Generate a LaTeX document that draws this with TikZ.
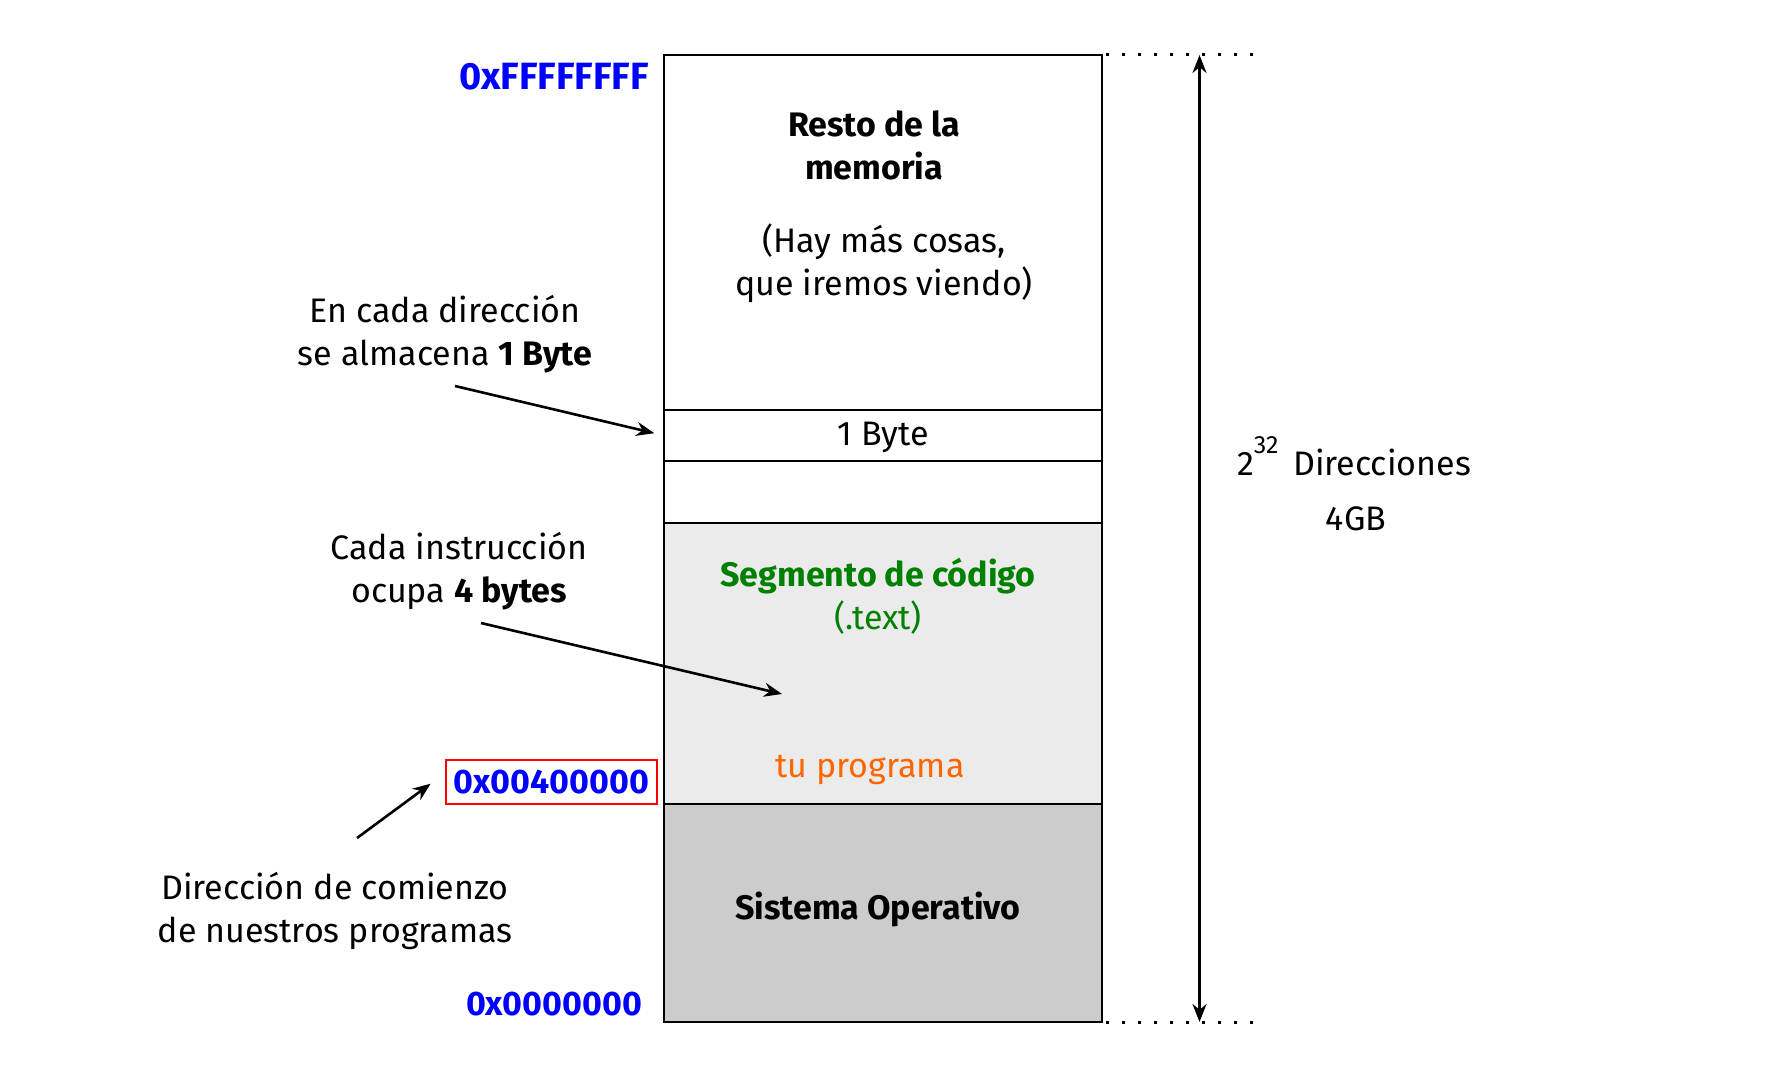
\documentclass[tikz,border=0pt]{standalone}
\usepackage{fontspec}
\setmainfont{Fira Sans}
\usetikzlibrary{positioning,arrows.meta}
\definecolor{addrblue}{RGB}{0,0,255}
\definecolor{codegreen}{RGB}{0,128,0}
\definecolor{progorange}{RGB}{255,102,0}
\definecolor{codegray}{RGB}{235,235,235}
\definecolor{sogray}{RGB}{204,204,204}
\newcommand\memfont{\fontsize{17}{21.5}\selectfont}
\tikzset{
  memrow/.style={draw,line width=1pt,minimum width=219pt,inner sep=0pt,outer sep=0pt},
  txt/.style={font=\memfont,align=center,inner sep=0pt},
  addr/.style={font=\memfont\bfseries,text=addrblue,inner sep=0pt},
  ptr/.style={-{Stealth[length=9pt,width=7pt]},line width=1.3pt},
}
\begin{document}
\begin{tikzpicture}[x=0.5pt,y=-0.5pt]
                \useasboundingbox (0,0) rectangle (1776,1085);
                \node[memrow,anchor=north,minimum height=177.5pt] (resto) at (883,55) {};
                \node[memrow,minimum height=25.5pt,below=0pt of resto] (byte) {};
                \node[memrow,minimum height=31pt,below=0pt of byte] (vacio) {};
                \node[memrow,fill=codegray,minimum height=140.5pt,below=0pt of vacio] (codigo) {};
                \node[memrow,fill=sogray,minimum height=109pt,below=0pt of codigo] (so) {};
                \node[txt,font=\memfont\bfseries] (tresto) at (874,145) {Resto de la\\memoria};
                \node[txt] (thay) at (884,263) {(Hay más cosas,\\que iremos viendo)};
                \node[txt] (tbyte) at ([yshift=-1pt]byte.center) {1 Byte};
                \node[txt,text=codegreen] (tcodigo) at (878,596) {\textbf{Segmento de código}\\(.text)};
                \node[txt,text=progorange] (tprog) at (870,770) {tu programa};
                \node[txt,font=\memfont\bfseries] (tso) at (878,909) {Sistema Operativo};
                \node[addr,font=\fontsize{19}{22}\bfseries] (dtop) at (554,77) {0xFFFFFFFF};
                \node[addr] (dbot) at (554,1004) {0x0000000};
                \node[addr,draw=red,line width=0.8pt,minimum width=105.5pt,minimum height=22pt] (dprog) at (551.5,782) {0x00400000};
                \node[txt] (nbyte) at (445,334) {En cada dirección\\se almacena \textbf{1 Byte}};
                \node[txt] (ninstr) at (459,571) {Cada instrucción\\ocupa \textbf{4 bytes}};
                \node[txt] (ncomienzo) at (335,911) {Dirección de comienzo\\de nuestros programas};
                \node[txt] (ndir) at (1354,456) {2\raisebox{1.2ex}{\fontsize{12.5}{14}\selectfont 32}\,\ Direcciones};
                \node[txt] (ngb) at (1356,519) {4GB};
                \coordinate (cbyte) at (455,386);
                \coordinate (cinstr) at (481,623);
                \coordinate (cinstrend) at (782,694);
                \coordinate (ccomienzo) at (357,838);
                \coordinate (ctop) at (1199.5,55);
                \coordinate (cbot) at (1199.5,1022);
                \draw[ptr,shorten >=5pt] (cbyte)--(byte.west);
                \draw[ptr] (cinstr)--(cinstrend);
                \draw[ptr,shorten >=9pt] (ccomienzo)--(dprog.west |- 0,773);
                \draw[line width=1.5pt,dash pattern=on 1.5pt off 6.5pt] (resto.north east)++(4,0)--++(156,0) (so.south east)++(4,0)--++(156,0);
                \draw[{Stealth[length=9pt,width=7pt]}-{Stealth[length=9pt,width=7pt]},line width=1.3pt] (ctop)--(cbot);
            \end{tikzpicture}
\end{document}
